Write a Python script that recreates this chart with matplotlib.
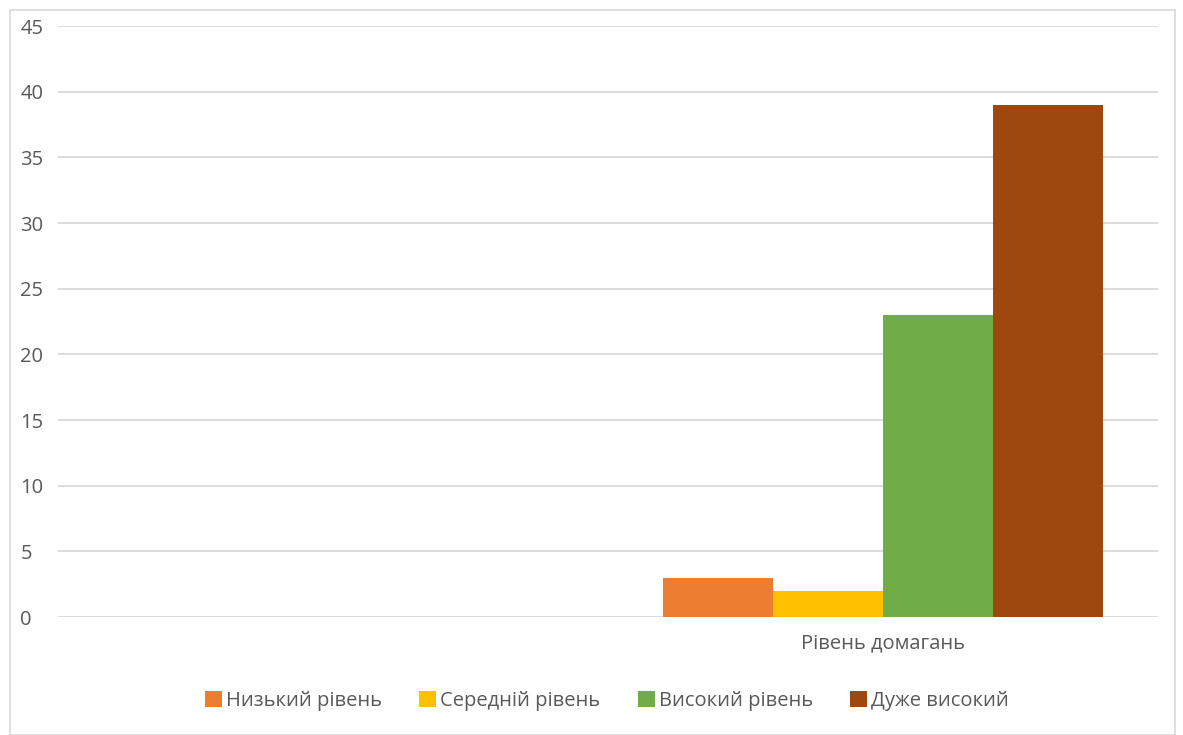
import matplotlib.pyplot as plt
from matplotlib.patches import Rectangle
import numpy as np

categories = ["", "Рівень домагань"]
series_names = ["Низький рівень", "Середній рівень", "Високий рівень", "Дуже високий"]
series_values = [
    [0, 3],
    [0, 2],
    [0, 23],
    [0, 39],
]
colors = ["#ED7D31", "#FFC000", "#70AD47", "#9E480E"]
y_ticks = [0, 5, 10, 15, 20, 25, 30, 35, 40, 45]

plt.rcParams['font.family'] = ['Open Sans', 'DejaVu Sans']
text_color = "#595959"

fig = plt.figure(figsize=(11.83, 7.35), dpi=100)
ax = fig.add_axes([0.049, 0.1605, 0.930, 0.8041])

fig.patches.append(Rectangle((10 / 1183, 0), 1165 / 1183, 725 / 735,
                             transform=fig.transFigure, fill=False,
                             edgecolor="#d9d9d9", linewidth=1.2))

x = np.arange(len(categories))
width = 0.2
for i, (name, vals) in enumerate(zip(series_names, series_values)):
    offset = (i - 1.5) * width
    ax.bar(x + offset, vals, width, color=colors[i], label=name, zorder=3)

ax.set_xlim(-0.5, 1.5)
ax.set_ylim(0, 45)
ax.set_yticks(y_ticks)
ax.set_xticks(x)
ax.set_xticklabels(categories)
ax.tick_params(axis='both', length=0, colors=text_color, labelsize=14.5)
ax.tick_params(axis='x', pad=12)
ax.tick_params(axis='y', pad=27)
for lbl in ax.get_yticklabels():
    lbl.set_horizontalalignment('left')

ax.grid(axis='y', color="#d9d9d9", linewidth=1.3, zorder=0)
for side in ax.spines.values():
    side.set_visible(False)

leg = fig.legend(loc='center', bbox_to_anchor=(0.513, 1 - 701 / 735), ncol=4,
                 frameon=False, fontsize=14.5, handlelength=0.85, handleheight=0.85,
                 handletextpad=0.2, columnspacing=1.85, labelcolor=text_color)

fig.savefig("out.png", dpi=100)
